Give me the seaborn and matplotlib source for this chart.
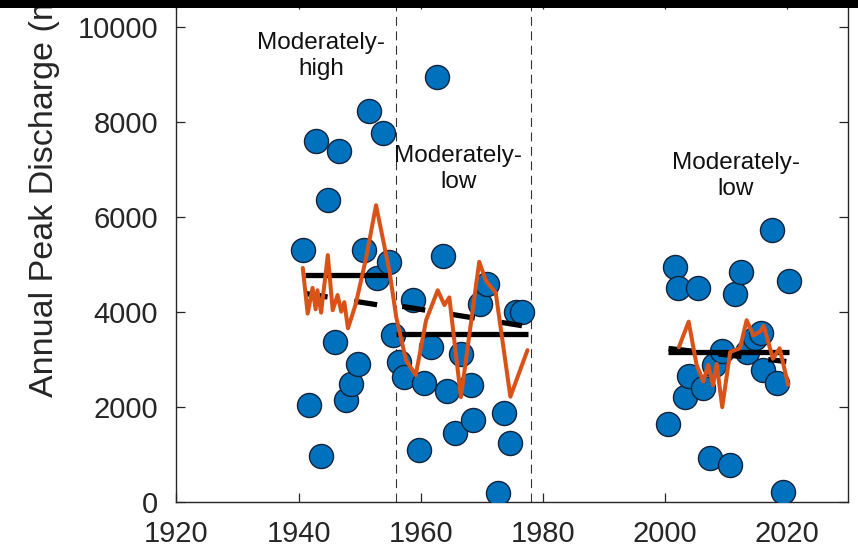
import numpy as np
import pandas as pd
import matplotlib
matplotlib.use("Agg")
import matplotlib.pyplot as plt
from matplotlib.patches import Rectangle
import seaborn as sns

# ---------------- data ----------------
peak_years = [1940.7, 1941.8, 1942.8, 1943.7, 1944.8, 1945.9, 1946.7, 1947.8, 1948.6,
              1949.8, 1950.8, 1951.6, 1952.8, 1953.8, 1954.9, 1955.4, 1956.5, 1957.3,
              1958.7, 1959.7, 1960.6, 1961.7, 1962.7, 1963.6, 1964.4, 1965.7, 1966.6,
              1968.2, 1968.5, 1969.7, 1970.8, 1972.7, 1973.7, 1974.7, 1975.6, 1976.6,
              2000.6, 2001.6, 2002.2, 2003.3, 2003.9, 2005.4, 2006.3, 2007.4, 2008.0,
              2009.3, 2010.7, 2011.5, 2012.5, 2013.4, 2014.8, 2015.8, 2016.1, 2017.5,
              2018.4, 2019.4, 2020.3]
peak_values = [5290, 2030, 7590, 970, 6350, 3370, 7380, 2140, 2480,
               2900, 5300, 8220, 4700, 7770, 5050, 3500, 2940, 2630,
               4240, 1090, 2490, 3250, 8930, 5180, 2330, 1450, 3100,
               2450, 1720, 4170, 4580, 180, 1860, 1230, 4000, 4000,
               1630, 4940, 4490, 2200, 2650, 4490, 2400, 910, 2870,
               3170, 770, 4380, 4840, 3150, 3450, 3550, 2780, 5710,
               2490, 210, 4650]

# smoothed series (orange)
smooth_years_early = [1940.7, 1941.5, 1942.3, 1942.8, 1943.1, 1943.7, 1944.8, 1945.6, 1946.4,
                      1947.0, 1947.5, 1948.1, 1949.4, 1951.1, 1952.7, 1954.9, 1956.0, 1957.6,
                      1959.2, 1960.9, 1962.8, 1963.9, 1964.7, 1966.6, 1969.6, 1970.7, 1972.3,
                      1974.7, 1977.5]
smooth_values_early = [4920, 3960, 4500, 4050, 4450, 3980, 5190, 4030, 4350,
                       4000, 4200, 3650, 4170, 5150, 6240, 4850, 3890, 2980,
                       2665, 3820, 4450, 4140, 4300, 2200, 5050, 4650, 4400,
                       2210, 3190]
smooth_years_late = [2002.3, 2003.9, 2005.2, 2006.3, 2007.1, 2007.9, 2008.5, 2009.4, 2010.7,
                     2012.3, 2013.4, 2014.5, 2015.6, 2016.2, 2017.7, 2018.8, 2020.2]
smooth_values_late = [3250, 3790, 2880, 2530, 2880, 2450, 2900, 1990, 3150,
                      3230, 3820, 3500, 3580, 3700, 3010, 3230, 2460]

# period means (solid black) and trends (dashed black): [start, end] pairs
mean_years = [[1941.0, 1954.6], [1956.0, 1977.6], [2000.6, 2020.3]]
mean_values = [[4765, 4765], [3527, 3527], [3155, 3155]]
trend_years = [[1941.0, 1954.6], [1957.0, 1976.6], [2000.6, 2019.9]]
trend_values = [[4385, 4110], [4110, 3705], [3225, 2950]]

breaks = [1956, 1978]
labels = ["Moderately-\nhigh", "Moderately-\nlow", "Moderately-\nlow"]
label_x = [1943.7, 1966.2, 2011.6]
label_y = [9380, 7000, 6860]

x_ticks = [1920, 1940, 1960, 1980, 2000, 2020]
y_ticks = [0, 2000, 4000, 6000, 8000, 10000]

# ---------------- style ----------------
sns.set_style("ticks")
plt.rcParams["font.family"] = ["Liberation Sans", "DejaVu Sans"]

BLUE = "#0072BD"
ORANGE = "#D95319"
TXT = "#262626"

W, H, DPI = 858, 555, 100
fig = plt.figure(figsize=(W / DPI, H / DPI), dpi=DPI)
ax = fig.add_axes([176.4 / W, (H - 501.7) / H, (848 - 176.4) / W, 501.7 / H])

pts = pd.DataFrame({"year": peak_years, "q": peak_values})
sns.scatterplot(data=pts, x="year", y="q", ax=ax, s=300, color=BLUE,
                edgecolor="#14233a", linewidth=1.0, zorder=3, legend=False)

for yrs, vals in zip(mean_years, mean_values):
    sns.lineplot(x=yrs, y=vals, ax=ax, color="black", lw=3.8,
                 estimator=None, sort=False, zorder=4, solid_capstyle="butt")
for yrs, vals in zip(trend_years, trend_values):
    sns.lineplot(x=yrs, y=vals, ax=ax, color="black", lw=3.8,
                 estimator=None, sort=False, zorder=4,
                 linestyle=(0, (4.4, 5.1)), dash_capstyle="butt")

for yrs, vals in [(smooth_years_early, smooth_values_early),
                  (smooth_years_late, smooth_values_late)]:
    sns.lineplot(x=yrs, y=vals, ax=ax, color=ORANGE, lw=2.9,
                 estimator=None, sort=False, zorder=5)

for b in breaks:
    ax.axvline(b, color="#333333", lw=0.8, linestyle=(0, (8, 5)), zorder=2)

for t, x, y in zip(labels, label_x, label_y):
    ax.text(x, y, t, ha="center", va="center", multialignment="center",
            fontsize=17.5, color="#111111", linespacing=1.25, zorder=6)

ax.set_xlim(1920, 2030)
ax.set_ylim(0, 10560)
ax.set_xticks(x_ticks)
ax.set_yticks(y_ticks)
ax.set_xlabel("")
ax.set_ylabel("")
ax.tick_params(axis="both", direction="in", length=6.5, width=0.9,
               colors=TXT, labelsize=21, top=True, right=True)
ax.tick_params(axis="x", pad=13)
ax.tick_params(axis="y", pad=13)
for sp in ax.spines.values():
    sp.set_visible(True)
    sp.set_color(TXT)
    sp.set_linewidth(1.0)

fig.text(45 / W, (H - 397) / H, "Annual Peak Discharge (m\u00b3/s)", rotation=90,
         ha="center", va="bottom", fontsize=24.5, color=TXT)

fig.add_artist(Rectangle((0, 1 - 7.5 / H), 1, 7.5 / H, transform=fig.transFigure,
                         facecolor="black", edgecolor="none", zorder=20))

fig.savefig("out.png", dpi=DPI)
